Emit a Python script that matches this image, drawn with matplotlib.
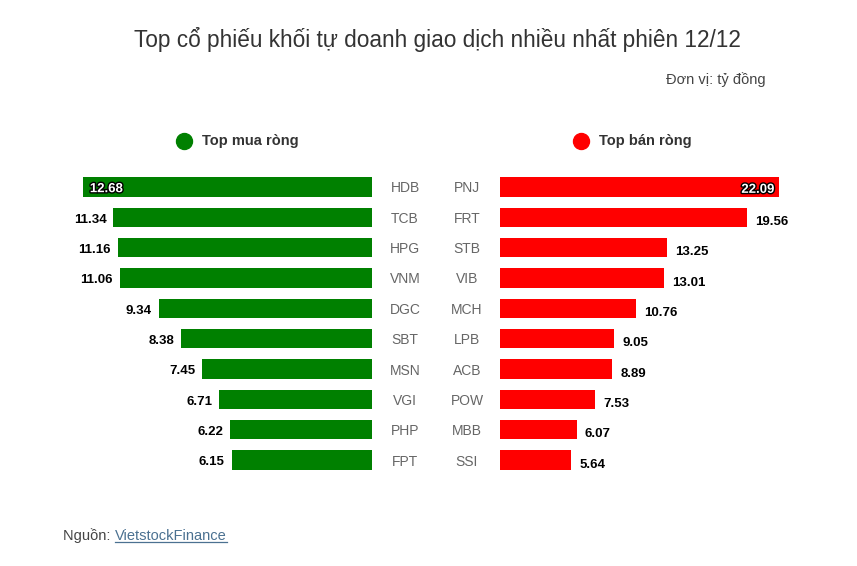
import matplotlib
matplotlib.use("Agg")
import matplotlib.pyplot as plt
import matplotlib.patheffects as pe
from matplotlib.lines import Line2D

plt.rcParams['font.family'] = ['Liberation Sans', 'DejaVu Sans']

buy_tickers = ["HDB", "TCB", "HPG", "VNM", "DGC", "SBT", "MSN", "VGI", "PHP", "FPT"]
buy_values = [12.68, 11.34, 11.16, 11.06, 9.34, 8.38, 7.45, 6.71, 6.22, 6.15]
sell_tickers = ["PNJ", "FRT", "STB", "VIB", "MCH", "LPB", "ACB", "POW", "MBB", "SSI"]
sell_values = [22.09, 19.56, 13.25, 13.01, 10.76, 9.05, 8.89, 7.53, 6.07, 5.64]

title = "Top cổ phiếu khối tự doanh giao dịch nhiều nhất phiên 12/12"
unit = "Đơn vị: tỷ đồng"
legend_buy = "Top mua ròng"
legend_sell = "Top bán ròng"

W, H = 857, 566
fig = plt.figure(figsize=(W / 100, H / 100), dpi=100)
fig.patch.set_facecolor("white")

def rect(x0, y0, x1, y1):
    return [x0 / W, 1 - y1 / H, (x1 - x0) / W, (y1 - y0) / H]

GREEN = "#008000"
RED = "#ff0000"
row_top, row_bot = 171.8, 475.2

# Left (buy) axes
axl = fig.add_axes(rect(60, row_top, 372, row_bot))
n = len(buy_values)
ys = list(range(n))
axl.barh(ys, buy_values, height=0.63, color=GREEN)
axl.set_xlim(312 / 22.8, 0)
axl.set_ylim(n - 0.5, -0.5)
axl.axis("off")
for i, (t, v) in enumerate(zip(buy_tickers, buy_values)):
    axl.text((405 - 60) / 312, i, t, transform=axl.get_yaxis_transform(),
             ha="center", va="center_baseline", fontsize=10, color="#666666")
    if i == 0:
        axl.annotate(f"{v:.2f}", (v, i), xytext=(5, -0.5), textcoords="offset points",
                     ha="left", va="center_baseline", fontsize=9.5, fontweight="bold", color="white",
                     path_effects=[pe.withStroke(linewidth=2, foreground="black")])
    else:
        axl.annotate(f"{v:.2f}", (v, i), xytext=(-5, -0.5), textcoords="offset points",
                     ha="right", va="center_baseline", fontsize=9.5, fontweight="bold", color="black")

# Right (sell) axes
axr = fig.add_axes(rect(500, row_top, 820, row_bot))
axr.barh(ys, sell_values, height=0.63, color=RED)
axr.set_xlim(0, 320 / 12.62)
axr.set_ylim(n - 0.5, -0.5)
axr.axis("off")
for i, (t, v) in enumerate(zip(sell_tickers, sell_values)):
    axr.text((467 - 500) / 320, i, t, transform=axr.get_yaxis_transform(),
             ha="center", va="center_baseline", fontsize=10, color="#666666")
    if i == 0:
        axr.annotate(f"{v:.2f}", (v, i), xytext=(-3, -1), textcoords="offset points",
                     ha="right", va="center_baseline", fontsize=9.5, fontweight="bold", color="white",
                     path_effects=[pe.withStroke(linewidth=2, foreground="black")])
    else:
        axr.annotate(f"{v:.2f}", (v, i), xytext=(6, -2.2), textcoords="offset points",
                     ha="left", va="center_baseline", fontsize=9.5, fontweight="bold", color="black")

# Title and unit
fig.text(437 / W, 1 - 40 / H, title, ha="center", va="center", fontsize=16.3, color="#333333")
fig.text(766 / W, 1 - 80 / H, unit, ha="right", va="center", fontsize=10.5, color="#444444")

# Legend markers
fig.add_artist(Line2D([184 / W], [1 - 141 / H], transform=fig.transFigure, marker="o",
                      markersize=11.5, color=GREEN, linestyle="none"))
fig.add_artist(Line2D([581 / W], [1 - 141 / H], transform=fig.transFigure, marker="o",
                      markersize=11.5, color=RED, linestyle="none"))
fig.text(202 / W, 1 - 141 / H, legend_buy, ha="left", va="center", fontsize=10.5,
         fontweight="bold", color="#333333")
fig.text(599 / W, 1 - 141 / H, legend_sell, ha="left", va="center", fontsize=10.5,
         fontweight="bold", color="#333333")

# Source
fig.text(63 / W, 1 - 536 / H, "Nguồn: ", ha="left", va="center", fontsize=10.5, color="#444444")
link = fig.text(115 / W, 1 - 536 / H, "VietstockFinance", ha="left", va="center",
                fontsize=10.5, color="#4b7191")
fig.canvas.draw()
bb = link.get_window_extent(fig.canvas.get_renderer())
uy = (bb.y0 + 1.5) / H
fig.add_artist(Line2D([bb.x0 / W, bb.x1 / W], [uy, uy], transform=fig.transFigure,
                      color="#4b7191", linewidth=0.9))

fig.savefig("out.png", dpi=100, facecolor="white")
